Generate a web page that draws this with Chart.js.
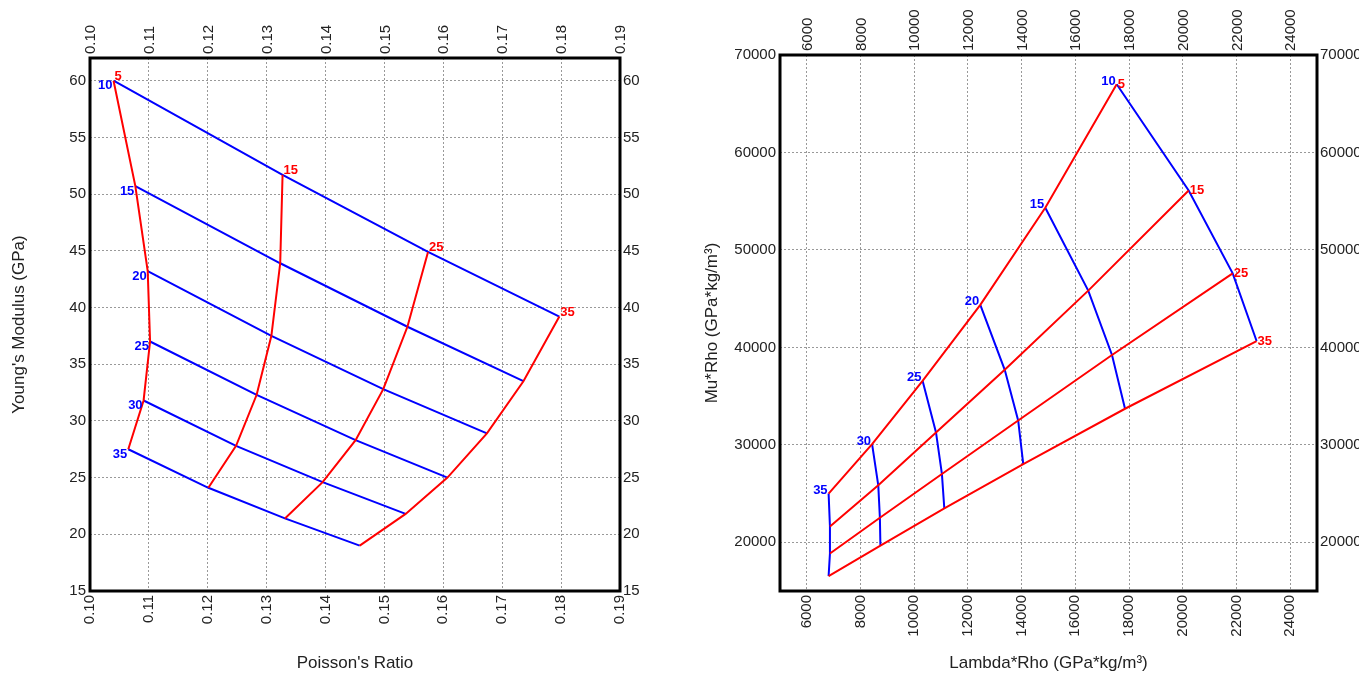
<!DOCTYPE html>
<html>
<head>
<meta charset="utf-8">
<script src="https://cdn.jsdelivr.net/npm/chart.js@4.4.1/dist/chart.umd.min.js"></script>
<style>
  body { margin: 0; background: #fff; }
  .box { position: absolute; top: 0; }
</style>
</head>
<body>
<div class="box" style="left:0"><canvas id="leftChart" width="690" height="675"></canvas></div>
<div class="box" style="left:690px"><canvas id="rightChart" width="669" height="675"></canvas></div>
<script>
// red curves (5, 15, 25, 35) are the columns, blue lines (10 ... 35) are the rows
const redLabels = ['5', '15', '25', '35'];
const blueLabels = ['10', '15', '20', '25', '30', '35'];

const poissonRatio = [
    [0.1040, 0.1327, 0.1574, 0.1797],
    [0.1077, 0.1323, 0.1539, 0.1736],
    [0.1098, 0.1308, 0.1498, 0.1674],
    [0.1102, 0.1283, 0.1451, 0.1607],
    [0.1091, 0.1248, 0.1395, 0.1536],
    [0.1065, 0.1201, 0.1331, 0.1458]
];
const youngsModulus = [
    [60.0, 51.7, 44.9, 39.2],
    [50.7, 43.9, 38.3, 33.5],
    [43.2, 37.5, 32.8, 28.9],
    [37.0, 32.3, 28.3, 25.0],
    [31.8, 27.8, 24.6, 21.8],
    [27.5, 24.1, 21.4, 19.0]
];

const lambdaRho = [
    [17540, 20220, 21860, 22750],
    [14880, 16480, 17365, 17850],
    [12460, 13370, 13870, 14060],
    [10310, 10810, 11030, 11120],
    [8430, 8660, 8720, 8740],
    [6810, 6860, 6860, 6810]
];
const muRho = [
    [67000, 56100, 47600, 40650],
    [54330, 45820, 39220, 33700],
    [44360, 37700, 32500, 28030],
    [36570, 31270, 27010, 23470],
    [30070, 25850, 22520, 19660],
    [25000, 21630, 18850, 16530]
];

const prTicks = [0.10, 0.11, 0.12, 0.13, 0.14, 0.15, 0.16, 0.17, 0.18, 0.19];
const ymTicks = [15, 20, 25, 30, 35, 40, 45, 50, 55, 60];
const lrTicks = [6000, 8000, 10000, 12000, 14000, 16000, 18000, 20000, 22000, 24000];
const mrTicks = [20000, 30000, 40000, 50000, 60000, 70000];

const RED = '#ff0000';
const BLUE = '#0000ff';
const FONT = '"Liberation Sans", Arial, sans-serif';

const frame = {
    id: 'frame',
    afterDraw(chart) {
        const { ctx, chartArea: a } = chart;
        ctx.save();
        ctx.lineWidth = 3;
        ctx.strokeStyle = '#000';
        ctx.strokeRect(a.left, a.top, a.right - a.left, a.bottom - a.top);
        ctx.restore();
    }
};

const pointLabels = {
    id: 'pointLabels',
    afterDatasetsDraw(chart, args, opts) {
        const { ctx, scales: { x, y } } = chart;
        ctx.save();
        ctx.font = 'bold 13px ' + FONT;
        ctx.textBaseline = 'middle';
        opts.items.forEach(it => {
            ctx.fillStyle = it.color;
            ctx.textAlign = it.align;
            ctx.fillText(it.text, x.getPixelForValue(it.x) + it.dx, y.getPixelForValue(it.y) + it.dy);
        });
        ctx.restore();
    }
};

function gridDatasets(xs, ys) {
    const sets = [];
    redLabels.forEach((lab, j) => {
        sets.push({
            label: 'red ' + lab,
            data: xs.map((row, i) => ({ x: row[j], y: ys[i][j] })),
            borderColor: RED
        });
    });
    blueLabels.forEach((lab, i) => {
        sets.push({
            label: 'blue ' + lab,
            data: xs[i].map((v, j) => ({ x: v, y: ys[i][j] })),
            borderColor: BLUE
        });
    });
    return sets.map(s => Object.assign(s, { showLine: true, borderWidth: 2, pointRadius: 0, tension: 0 }));
}

function labelItems(xs, ys, blueOff, redOff) {
    const items = [];
    blueLabels.forEach((lab, i) => {
        items.push({ text: lab, x: xs[i][0], y: ys[i][0], color: BLUE, align: 'right', dx: blueOff[0], dy: blueOff[1] });
    });
    redLabels.forEach((lab, j) => {
        items.push({ text: lab, x: xs[0][j], y: ys[0][j], color: RED, align: 'left', dx: redOff[0], dy: redOff[1] });
    });
    return items;
}

function axis(position, min, max, ticks, fmt, size, gridOn, title) {
    const horizontal = position === 'top' || position === 'bottom';
    return {
        type: 'linear',
        position: position,
        min: min,
        max: max,
        afterBuildTicks: s => { s.ticks = ticks.map(v => ({ value: v })); },
        afterFit: s => { if (horizontal) s.height = size; else s.width = size; },
        ticks: {
            autoSkip: false,
            padding: position === 'right' ? 3 : 4,
            // rotated labels on a top axis come out shifted left, push them back
            labelOffset: position === 'top' ? 19 : 0,
            minRotation: horizontal ? 90 : 0,
            maxRotation: horizontal ? 90 : 0,
            color: '#222',
            font: { family: FONT, size: 15 },
            callback: fmt
        },
        grid: { display: gridOn, drawTicks: false, color: '#999', lineWidth: 1 },
        border: { display: false, dash: [2, 2] },
        title: title || { display: false }
    };
}

function makeChart(id, xs, ys, cfg) {
    return new Chart(document.getElementById(id), {
        type: 'scatter',
        data: { datasets: gridDatasets(xs, ys) },
        plugins: [frame, pointLabels],
        options: {
            responsive: false,
            devicePixelRatio: 1,
            animation: false,
            layout: { padding: 0 },
            plugins: {
                legend: { display: false },
                tooltip: { enabled: false },
                pointLabels: { items: labelItems(xs, ys, cfg.blueOff, cfg.redOff) }
            },
            scales: cfg.scales
        }
    });
}

const titleFont = { family: FONT, size: 17 };

makeChart('leftChart', poissonRatio, youngsModulus, {
    blueOff: [-1, 5],
    redOff: [1, -4],
    scales: {
        x: axis('bottom', 0.10, 0.19, prTicks, v => v.toFixed(2), 84, true,
            { display: true, text: "Poisson's Ratio", color: '#222', font: titleFont, padding: { top: 4, bottom: 1 } }),
        x2: axis('top', 0.10, 0.19, prTicks, v => v.toFixed(2), 58, false),
        y: axis('left', 15, 62, ymTicks, v => String(v), 90, true,
            { display: true, text: "Young's Modulus (GPa)", color: '#222', font: titleFont, padding: { top: 9, bottom: 4 } }),
        y2: axis('right', 15, 62, ymTicks, v => String(v), 70, false)
    }
});

makeChart('rightChart', lambdaRho, muRho, {
    blueOff: [-1, -3],
    redOff: [1, 0],
    scales: {
        x: axis('bottom', 5000, 25000, lrTicks, v => String(v), 84, true,
            { display: true, text: 'Lambda*Rho (GPa*kg/m³)', color: '#222', font: titleFont, padding: { top: 4, bottom: 1 } }),
        x2: axis('top', 5000, 25000, lrTicks, v => String(v), 55, false),
        y: axis('left', 15000, 70000, mrTicks, v => String(v), 90, true,
            { display: true, text: 'Mu*Rho (GPa*kg/m³)', color: '#222', font: titleFont, padding: { top: 12, bottom: 4 } }),
        y2: axis('right', 15000, 70000, mrTicks, v => String(v), 42, false)
    }
});
</script>
</body>
</html>
